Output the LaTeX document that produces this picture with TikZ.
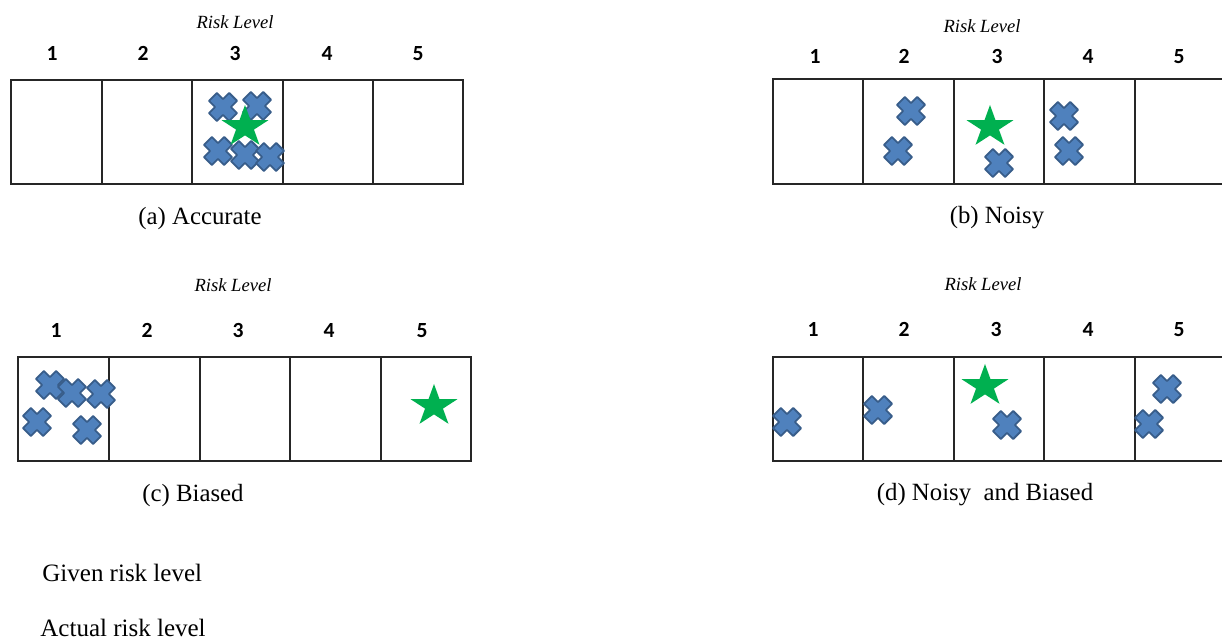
\documentclass[tikz,border=0pt]{standalone}
\usepackage{fontspec}
\setmainfont{Liberation Serif}
\newfontfamily\numfont{Carlito}
\definecolor{crossfill}{HTML}{4F81BD}
\definecolor{crossedge}{HTML}{385D8A}
\definecolor{starfill}{HTML}{00B050}
\tikzset{
  boxline/.style={draw=black!85, line width=1pt},
  lvl/.style={font=\numfont\bfseries\fontsize{10.8}{12}\selectfont, anchor=base, inner sep=0pt},
  risk/.style={font=\itshape\fontsize{9.3}{11}\selectfont, anchor=base, inner sep=0pt},
  capt/.style={font=\fontsize{12.4}{14}\selectfont, anchor=base, inner sep=0pt},
  legendtext/.style={font=\fontsize{12.5}{15}\selectfont, anchor=base west, inner sep=0pt},
  xmark/.pic={
    \filldraw[fill=crossfill, draw=crossedge, line width=0.9pt, line join=round, rotate=45]
      (-5.6,-14.3) -- (5.6,-14.3) -- (5.6,-5.6) -- (14.3,-5.6) -- (14.3,5.6) -- (5.6,5.6) --
      (5.6,14.3) -- (-5.6,14.3) -- (-5.6,5.6) -- (-14.3,5.6) -- (-14.3,-5.6) -- (-5.6,-5.6) -- cycle;
  },
  gstar/.pic={
    \fill[starfill, xscale=1.12]
      (-90:22) -- (-54:8.4) -- (-18:22) -- (18:8.4) -- (54:22) -- (90:8.4) --
      (126:22) -- (162:8.4) -- (198:22) -- (234:8.4) -- cycle;
  }
}
\begin{document}
\begin{tikzpicture}[x=0.5pt, y=-0.5pt]
\useasboundingbox (0,0) rectangle (1222,641);
\clip (0,0) rectangle (1222,641);
\fill[white] (0,0) rectangle (1222,641);

% ---------- (a) Accurate ----------
\node[risk] (ra) at (235,29) {Risk Level};
\foreach \n/\x in {1/52,2/143,3/235,4/327,5/418}
  \node[lvl] (a\n) at (\x,61) {\n};
\draw[boxline] (11,80) rectangle (463,184);
\foreach \x in {102,192,283,373} \draw[boxline] (\x,80) -- (\x,184);
\foreach \p in {(223,107),(257,106),(218,151),(245,155),(270,157)}
  \pic at \p {xmark};
\pic at (245,127) {gstar};
\node[capt] (ca) at (200,225) {(a) Accurate};

% ---------- (b) Noisy ----------
\node[risk] (rb) at (982,33) {Risk Level};
\foreach \n/\x in {1/815,2/904,3/997,4/1088,5/1179}
  \node[lvl] (b\n) at (\x,64) {\n};
\draw[boxline] (773,79) rectangle (1226,184);
\foreach \x in {863,954,1044,1135} \draw[boxline] (\x,79) -- (\x,184);
\foreach \p in {(911,111),(898,151),(999,163),(1064,116),(1069,151)}
  \pic at \p {xmark};
\pic at (990,127) {gstar};
\node[capt] (cb) at (997,224) {(b) Noisy};

% ---------- (c) Biased ----------
\node[risk] (rc) at (233,292) {Risk Level};
\foreach \n/\x in {1/56,2/147,3/238,4/329,5/422}
  \node[lvl] (c\n) at (\x,338) {\n};
\draw[boxline] (18,357) rectangle (471,461);
\foreach \x in {109,200,290,381} \draw[boxline] (\x,357) -- (\x,461);
\foreach \p in {(50,385),(72,393),(101,394),(37,422),(87,430)}
  \pic at \p {xmark};
\pic at (434,406) {gstar};
\node[capt] (cc) at (193,502) {(c) Biased};

% ---------- (d) Noisy and Biased ----------
\node[risk] (rd) at (983,291) {Risk Level};
\foreach \n/\x in {1/813,2/904,3/996,4/1088,5/1179}
  \node[lvl] (d\n) at (\x,337) {\n};
\draw[boxline] (773,357) rectangle (1226,461);
\foreach \x in {863,954,1044,1135} \draw[boxline] (\x,357) -- (\x,461);
\foreach \p in {(787,422),(878,410),(1007,425),(1167,389),(1149,424)}
  \pic at \p {xmark};
\pic at (985,386) {gstar};
\node[capt] (cd) at (985,501) {(d) Noisy~ and Biased};

% ---------- legend ----------
\node[legendtext] (lg) at (42,582) {Given risk level};
\node[legendtext] (la) at (40,637) {Actual risk level};
\end{tikzpicture}
\end{document}
